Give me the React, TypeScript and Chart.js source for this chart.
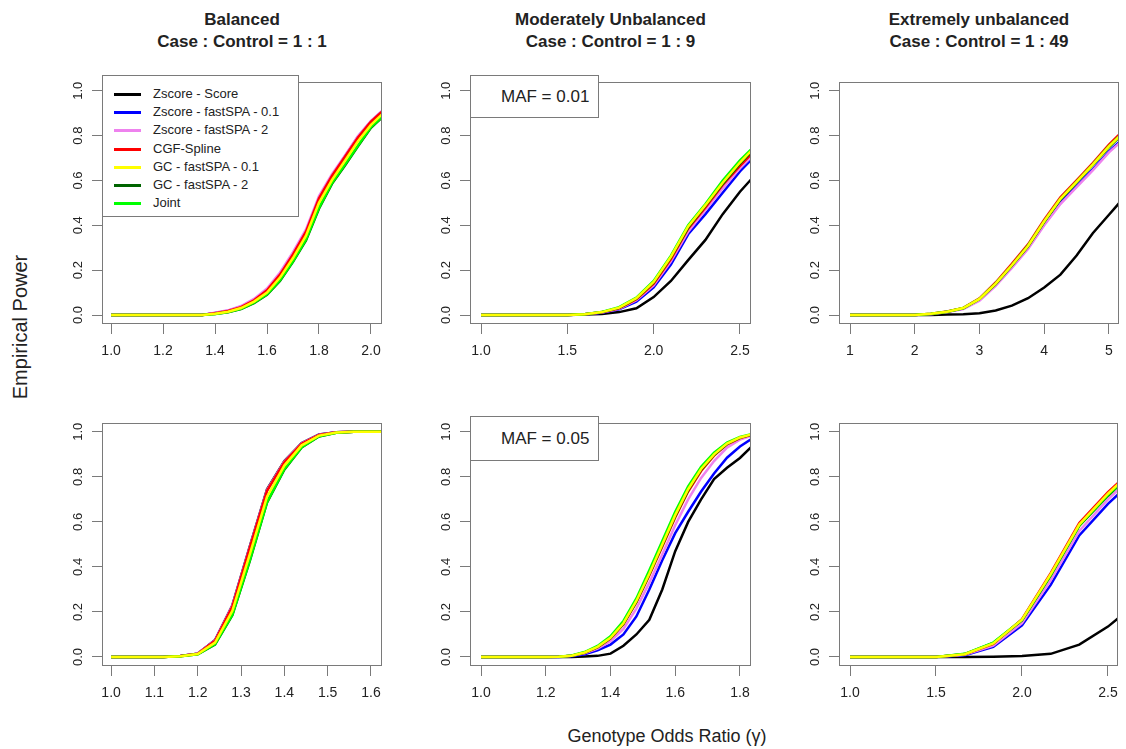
import React, { useEffect, useRef } from "react";
import { Chart, registerables } from "chart.js";

Chart.register(...registerables);

// ---------------- data ----------------
const SERIES_NAMES = [
  "Zscore - Score",
  "Zscore - fastSPA - 0.1",
  "Zscore - fastSPA - 2",
  "CGF-Spline",
  "GC - fastSPA - 0.1",
  "GC - fastSPA - 2",
  "Joint",
];
const SERIES_COLORS = ["#000000", "#0000FF", "#EE82EE", "#FF0000", "#FFFF00", "#006400", "#00FF00"];
// lower order = drawn on top
const DRAW_ORDER = [6, 5, 4, 3, 0, 2, 1];

const Y_TICKS = [0, 0.2, 0.4, 0.6, 0.8, 1.0];

const COLUMN_TITLES = [
  ["Balanced", "Case : Control = 1 : 1"],
  ["Moderately Unbalanced", "Case : Control = 1 : 9"],
  ["Extremely unbalanced", "Case : Control = 1 : 49"],
];
const ROW_LABELS = ["MAF = 0.01", "MAF = 0.05"];
const Y_TITLE = "Empirical Power";
const X_TITLE = "Genotype Odds Ratio (\u03b3)";

// Panel A: MAF 0.01, balanced
const xA = [1.0, 1.05, 1.1, 1.15, 1.2, 1.25, 1.3, 1.35, 1.4, 1.45, 1.5, 1.55, 1.6, 1.65, 1.7, 1.75, 1.8, 1.85, 1.9, 1.95, 2.0, 2.05];
const ticksA = [1.0, 1.2, 1.4, 1.6, 1.8, 2.0];
const scoreA = [0, 0, 0, 0, 0, 0, 0, 0, 0.008, 0.018, 0.035, 0.066, 0.11, 0.18, 0.27, 0.372, 0.52, 0.62, 0.705, 0.792, 0.862, 0.915];
const spa01A = [0, 0, 0, 0, 0, 0, 0, 0, 0.009, 0.019, 0.037, 0.068, 0.112, 0.184, 0.272, 0.374, 0.522, 0.622, 0.708, 0.795, 0.864, 0.916];
const spa2A = [0, 0, 0, 0, 0, 0, 0, 0, 0.01, 0.021, 0.04, 0.072, 0.118, 0.19, 0.28, 0.382, 0.53, 0.628, 0.712, 0.798, 0.866, 0.918];
const splineA = [0, 0, 0, 0, 0, 0, 0, 0, 0.008, 0.018, 0.035, 0.066, 0.11, 0.18, 0.27, 0.372, 0.52, 0.62, 0.706, 0.792, 0.862, 0.915];
const gc01A = [0, 0, 0, 0, 0, 0, 0, 0, 0.006, 0.015, 0.031, 0.06, 0.1, 0.167, 0.254, 0.354, 0.5, 0.602, 0.688, 0.775, 0.848, 0.903];
const gc2A = [0, 0, 0, 0, 0, 0, 0, 0, 0.005, 0.012, 0.027, 0.053, 0.09, 0.152, 0.237, 0.333, 0.474, 0.585, 0.667, 0.752, 0.835, 0.888];
const jointA = [0, 0, 0, 0, 0, 0, 0, 0, 0.005, 0.013, 0.028, 0.055, 0.092, 0.155, 0.24, 0.337, 0.478, 0.589, 0.671, 0.756, 0.838, 0.89];

// Panel B: MAF 0.01, 1:9
const xB = [1.0, 1.1, 1.2, 1.3, 1.4, 1.5, 1.6, 1.7, 1.8, 1.9, 2.0, 2.1, 2.2, 2.3, 2.4, 2.5, 2.6];
const ticksB = [1.0, 1.5, 2.0, 2.5];
const scoreB = [0, 0, 0, 0, 0, 0, 0.002, 0.005, 0.013, 0.03, 0.08, 0.152, 0.245, 0.335, 0.45, 0.55, 0.635];
const spa01B = [0, 0, 0, 0, 0, 0, 0.003, 0.01, 0.025, 0.06, 0.123, 0.225, 0.36, 0.45, 0.545, 0.64, 0.72];
const spa2B = [0, 0, 0, 0, 0, 0, 0.003, 0.011, 0.028, 0.066, 0.132, 0.24, 0.372, 0.468, 0.565, 0.655, 0.73];
const splineB = [0, 0, 0, 0, 0, 0, 0.003, 0.012, 0.03, 0.07, 0.14, 0.25, 0.385, 0.48, 0.58, 0.665, 0.745];
const gc01B = [0, 0, 0, 0, 0, 0, 0.004, 0.013, 0.033, 0.075, 0.148, 0.26, 0.395, 0.49, 0.59, 0.68, 0.76];
const gc2B = [0, 0, 0, 0, 0, 0, 0.004, 0.013, 0.032, 0.074, 0.145, 0.257, 0.39, 0.487, 0.585, 0.675, 0.755];
const jointB = [0, 0, 0, 0, 0, 0, 0.004, 0.014, 0.035, 0.078, 0.152, 0.265, 0.4, 0.495, 0.6, 0.69, 0.765];

// Panel C: MAF 0.01, 1:49
const xC = [1.0, 1.25, 1.5, 1.75, 2.0, 2.25, 2.5, 2.75, 3.0, 3.25, 3.5, 3.75, 4.0, 4.25, 4.5, 4.75, 5.0, 5.25];
const ticksC = [1, 2, 3, 4, 5];
const scoreC = [0, 0, 0, 0, 0, 0, 0.002, 0.004, 0.008, 0.02, 0.042, 0.075, 0.123, 0.18, 0.265, 0.365, 0.447, 0.53];
const spa01C = [0, 0, 0, 0, 0, 0.005, 0.014, 0.029, 0.068, 0.135, 0.215, 0.3, 0.405, 0.5, 0.575, 0.65, 0.73, 0.795];
const spa2C = [0, 0, 0, 0, 0, 0.004, 0.013, 0.027, 0.064, 0.13, 0.21, 0.295, 0.4, 0.495, 0.57, 0.645, 0.725, 0.79];
const splineC = [0, 0, 0, 0, 0, 0.006, 0.016, 0.032, 0.074, 0.145, 0.228, 0.315, 0.425, 0.525, 0.6, 0.678, 0.76, 0.83];
const gc01C = [0, 0, 0, 0, 0, 0.006, 0.015, 0.031, 0.072, 0.14, 0.222, 0.308, 0.418, 0.518, 0.594, 0.671, 0.752, 0.822];
const gc2C = [0, 0, 0, 0, 0, 0.005, 0.015, 0.03, 0.071, 0.138, 0.22, 0.306, 0.415, 0.515, 0.59, 0.668, 0.748, 0.818];
const jointC = [0, 0, 0, 0, 0, 0.006, 0.015, 0.031, 0.072, 0.141, 0.222, 0.31, 0.418, 0.518, 0.595, 0.672, 0.753, 0.823];

// Panel D: MAF 0.05, balanced
const xD = [1.0, 1.04, 1.08, 1.12, 1.16, 1.2, 1.24, 1.28, 1.32, 1.36, 1.4, 1.44, 1.48, 1.52, 1.56, 1.6, 1.64];
const ticksD = [1.0, 1.1, 1.2, 1.3, 1.4, 1.5, 1.6];
const scoreD = [0, 0, 0, 0, 0.004, 0.015, 0.075, 0.23, 0.49, 0.745, 0.87, 0.95, 0.988, 0.998, 1, 1, 1];
const spa01D = [0, 0, 0, 0, 0.004, 0.015, 0.073, 0.226, 0.485, 0.74, 0.866, 0.948, 0.987, 0.998, 1, 1, 1];
const spa2D = [0, 0, 0, 0, 0.004, 0.015, 0.074, 0.228, 0.487, 0.742, 0.868, 0.949, 0.987, 0.998, 1, 1, 1];
const splineD = [0, 0, 0, 0, 0.004, 0.014, 0.072, 0.224, 0.483, 0.738, 0.865, 0.947, 0.986, 0.998, 1, 1, 1];
const gc01D = [0, 0, 0, 0, 0.003, 0.013, 0.064, 0.205, 0.455, 0.712, 0.85, 0.94, 0.983, 0.997, 1, 1, 1];
const gc2D = [0, 0, 0, 0, 0.003, 0.012, 0.055, 0.185, 0.425, 0.685, 0.832, 0.93, 0.979, 0.996, 1, 1, 1];
const jointD = [0, 0, 0, 0, 0.003, 0.012, 0.057, 0.188, 0.428, 0.688, 0.835, 0.932, 0.98, 0.996, 1, 1, 1];

// Panel E: MAF 0.05, 1:9
const xE = [1.0, 1.04, 1.08, 1.12, 1.16, 1.2, 1.24, 1.28, 1.32, 1.36, 1.4, 1.44, 1.48, 1.52, 1.56, 1.6, 1.64, 1.68, 1.72, 1.76, 1.8, 1.84];
const ticksE = [1.0, 1.2, 1.4, 1.6, 1.8];
const scoreE = [0, 0, 0, 0, 0, 0, 0, 0, 0.002, 0.005, 0.015, 0.05, 0.1, 0.165, 0.3, 0.47, 0.6, 0.7, 0.79, 0.84, 0.884, 0.94];
const spa01E = [0, 0, 0, 0, 0, 0, 0, 0.003, 0.012, 0.03, 0.055, 0.1, 0.18, 0.3, 0.43, 0.55, 0.645, 0.735, 0.815, 0.885, 0.935, 0.972];
const spa2E = [0, 0, 0, 0, 0, 0, 0.001, 0.005, 0.016, 0.037, 0.07, 0.125, 0.215, 0.33, 0.455, 0.585, 0.7, 0.795, 0.87, 0.93, 0.965, 0.985];
const splineE = [0, 0, 0, 0, 0, 0, 0.001, 0.006, 0.019, 0.043, 0.082, 0.145, 0.242, 0.362, 0.49, 0.62, 0.735, 0.826, 0.894, 0.944, 0.972, 0.988];
const gc01E = [0, 0, 0, 0, 0, 0, 0.001, 0.006, 0.02, 0.045, 0.085, 0.15, 0.249, 0.37, 0.5, 0.63, 0.745, 0.835, 0.9, 0.948, 0.975, 0.99];
const gc2E = [0, 0, 0, 0, 0, 0, 0.001, 0.006, 0.02, 0.044, 0.084, 0.148, 0.246, 0.367, 0.496, 0.626, 0.741, 0.832, 0.898, 0.946, 0.974, 0.989];
const jointE = [0, 0, 0, 0, 0, 0, 0.001, 0.007, 0.022, 0.049, 0.092, 0.16, 0.26, 0.385, 0.515, 0.645, 0.758, 0.845, 0.907, 0.952, 0.977, 0.991];

// Panel F: MAF 0.05, 1:49
const xF = [1.0, 1.167, 1.333, 1.5, 1.667, 1.833, 2.0, 2.167, 2.333, 2.5, 2.667];
const ticksF = [1.0, 1.5, 2.0, 2.5];
const scoreF = [0, 0, 0, 0, 0, 0.001, 0.004, 0.014, 0.055, 0.135, 0.24];
const spa01F = [0, 0, 0, 0, 0.008, 0.045, 0.14, 0.32, 0.54, 0.68, 0.8];
const spa2F = [0, 0, 0, 0, 0.01, 0.05, 0.15, 0.34, 0.56, 0.7, 0.82];
const splineF = [0, 0, 0, 0, 0.012, 0.058, 0.168, 0.372, 0.595, 0.732, 0.85];
const gc01F = [0, 0, 0, 0, 0.012, 0.06, 0.166, 0.368, 0.588, 0.725, 0.845];
const gc2F = [0, 0, 0, 0, 0.013, 0.062, 0.163, 0.362, 0.582, 0.716, 0.836];
const jointF = [0, 0, 0, 0, 0.014, 0.064, 0.165, 0.365, 0.585, 0.72, 0.84];

// ---------------- layout ----------------
const FONT = "'Liberation Sans', Arial, Helvetica, sans-serif";
const GRAY = "#7a7a7a";
const TEXT = "#222222";
const ML = 52; // room left of plot box
const MR = 8;
const MT = 6;
const MB = 44;

type Box = { left: number; top: number; w: number; h: number };
type PanelCfg = {
  x: number[];
  ys: number[][];
  xTicks: number[];
  dec: number;
  xMin: number;
  xMax: number;
  box: Box;
};

const COL_X = [102, 470, 839];
const COL_W = [280, 281, 280];
const ROW_Y = [75, 416];
const ROW_H = [249, 250];

const PANELS: PanelCfg[] = [
  { x: xA, ys: [scoreA, spa01A, spa2A, splineA, gc01A, gc2A, jointA], xTicks: ticksA, dec: 1, xMin: 0.965, xMax: 2.042, box: { left: COL_X[0], top: ROW_Y[0], w: COL_W[0], h: ROW_H[0] } },
  { x: xB, ys: [scoreB, spa01B, spa2B, splineB, gc01B, gc2B, jointB], xTicks: ticksB, dec: 1, xMin: 0.936, xMax: 2.564, box: { left: COL_X[1], top: ROW_Y[0], w: COL_W[1], h: ROW_H[0] } },
  { x: xC, ys: [scoreC, spa01C, spa2C, splineC, gc01C, gc2C, jointC], xTicks: ticksC, dec: 0, xMin: 0.83, xMax: 5.155, box: { left: COL_X[2], top: ROW_Y[0], w: COL_W[2], h: ROW_H[0] } },
  { x: xD, ys: [scoreD, spa01D, spa2D, splineD, gc01D, gc2D, jointD], xTicks: ticksD, dec: 1, xMin: 0.979, xMax: 1.625, box: { left: COL_X[0], top: ROW_Y[1], w: COL_W[0], h: ROW_H[1] } },
  { x: xE, ys: [scoreE, spa01E, spa2E, splineE, gc01E, gc2E, jointE], xTicks: ticksE, dec: 1, xMin: 0.966, xMax: 1.834, box: { left: COL_X[1], top: ROW_Y[1], w: COL_W[1], h: ROW_H[1] } },
  { x: xF, ys: [scoreF, spa01F, spa2F, splineF, gc01F, gc2F, jointF], xTicks: ticksF, dec: 1, xMin: 0.936, xMax: 2.558, box: { left: COL_X[2], top: ROW_Y[1], w: COL_W[2], h: ROW_H[1] } },
];

const framePlugin = {
  id: "frameBox",
  afterDatasetsDraw(chart: any) {
    const { ctx, chartArea: a } = chart;
    ctx.save();
    ctx.strokeStyle = GRAY;
    ctx.lineWidth = 1;
    ctx.strokeRect(Math.round(a.left) + 0.5, Math.round(a.top) + 0.5, Math.round(a.right - a.left) - 1, Math.round(a.bottom - a.top) - 1);
    ctx.restore();
  },
};

function Panel({ cfg }: { cfg: PanelCfg }) {
  const ref = useRef<HTMLCanvasElement>(null);
  const W = cfg.box.w + ML + MR;
  const H = cfg.box.h + MT + MB;
  useEffect(() => {
    const datasets = cfg.ys.map((vals, i) => ({
      label: SERIES_NAMES[i],
      data: cfg.x.map((xv, j) => ({ x: xv, y: vals[j] })),
      borderColor: SERIES_COLORS[i],
      backgroundColor: SERIES_COLORS[i],
      borderWidth: 2.5,
      pointRadius: 0,
      tension: 0,
      fill: false,
      order: DRAW_ORDER[i],
    }));
    const axisGrid = {
      display: true,
      drawOnChartArea: false,
      drawTicks: true,
      tickLength: 10,
      color: GRAY,
      tickColor: GRAY,
      tickWidth: 1,
    };
    const chart = new Chart(ref.current as HTMLCanvasElement, {
      type: "line",
      data: { datasets },
      options: {
        animation: false,
        responsive: false,
        devicePixelRatio: 1,
        layout: { padding: { left: 0, top: MT, right: MR, bottom: 0 } },
        plugins: { legend: { display: false }, tooltip: { enabled: false } },
        scales: {
          x: {
            type: "linear",
            min: cfg.xMin,
            max: cfg.xMax,
            afterBuildTicks: (s: any) => {
              s.ticks = cfg.xTicks.map((v) => ({ value: v }));
            },
            afterFit: (s: any) => {
              s.height = MB;
            },
            grid: axisGrid,
            border: { display: false },
            ticks: {
              autoSkip: false,
              maxRotation: 0,
              minRotation: 0,
              padding: 9,
              color: TEXT,
              font: { family: FONT, size: 14 },
              callback: (v: any) => Number(v).toFixed(cfg.dec),
            },
          },
          y: {
            type: "linear",
            min: -0.04,
            max: 1.04,
            afterBuildTicks: (s: any) => {
              s.ticks = Y_TICKS.map((v) => ({ value: v }));
            },
            afterFit: (s: any) => {
              s.width = ML;
            },
            grid: axisGrid,
            border: { display: false },
            ticks: {
              autoSkip: false,
              minRotation: 90,
              maxRotation: 90,
              crossAlign: "center",
              padding: 5,
              color: TEXT,
              font: { family: FONT, size: 13 },
              callback: (v: any) => Number(v).toFixed(1),
            },
          },
        },
      } as any,
      plugins: [framePlugin],
    });
    return () => chart.destroy();
  }, [cfg]);
  return (
    <canvas
      ref={ref}
      width={W}
      height={H}
      style={{ position: "absolute", left: cfg.box.left - ML, top: cfg.box.top - MT, width: W, height: H }}
    />
  );
}

function Legend() {
  const b = PANELS[0].box;
  return (
    <div
      style={{
        position: "absolute",
        left: b.left,
        top: b.top,
        width: 197,
        height: 142,
        boxSizing: "border-box",
        border: `1px solid ${GRAY}`,
        background: "#ffffff",
        fontFamily: FONT,
        fontSize: 13,
        color: TEXT,
      }}
    >
      {SERIES_NAMES.map((name, i) => (
        <div key={name} style={{ position: "absolute", left: 0, top: 9 + i * 18.2, height: 18, width: 195 }}>
          <div style={{ position: "absolute", left: 11, top: 8, width: 27, height: 3, background: SERIES_COLORS[i] }} />
          <div style={{ position: "absolute", left: 50, top: 1, whiteSpace: "nowrap", lineHeight: "16px" }}>{name}</div>
        </div>
      ))}
    </div>
  );
}

function MafBox({ row }: { row: number }) {
  const b = PANELS[row * 3 + 1].box;
  return (
    <div
      style={{
        position: "absolute",
        left: b.left,
        top: b.top,
        width: 129,
        height: row === 0 ? 43 : 45,
        boxSizing: "border-box",
        border: `1px solid ${GRAY}`,
        background: "#ffffff",
        fontFamily: FONT,
        fontSize: 17,
        color: TEXT,
        display: "flex",
        alignItems: "center",
        paddingLeft: 30,
        whiteSpace: "nowrap",
      }}
    >
      {ROW_LABELS[row]}
    </div>
  );
}

export default function App() {
  return (
    <div
      style={{
        position: "absolute",
        left: 0,
        top: 0,
        width: 1126,
        height: 749,
        background: "#ffffff",
        overflow: "hidden",
        fontFamily: FONT,
      }}
    >
      {COLUMN_TITLES.map((t, c) => (
        <div
          key={c}
          style={{
            position: "absolute",
            left: COL_X[c] + COL_W[c] / 2 - 150,
            width: 300,
            top: 9,
            textAlign: "center",
            fontWeight: "bold",
            fontSize: 17,
            lineHeight: "22px",
            color: TEXT,
          }}
        >
          <div>{t[0]}</div>
          <div>{t[1]}</div>
        </div>
      ))}
      {PANELS.map((p, i) => (
        <Panel key={i} cfg={p} />
      ))}
      <Legend />
      <MafBox row={0} />
      <MafBox row={1} />
      <div
        style={{
          position: "absolute",
          left: 20,
          top: 327,
          transform: "translate(-50%, -50%) rotate(-90deg)",
          whiteSpace: "nowrap",
          fontSize: 20,
          color: TEXT,
        }}
      >
        {Y_TITLE}
      </div>
      <div
        style={{
          position: "absolute",
          left: 667,
          top: 736,
          transform: "translate(-50%, -50%)",
          whiteSpace: "nowrap",
          fontSize: 18,
          color: TEXT,
        }}
      >
        {X_TITLE}
      </div>
    </div>
  );
}
